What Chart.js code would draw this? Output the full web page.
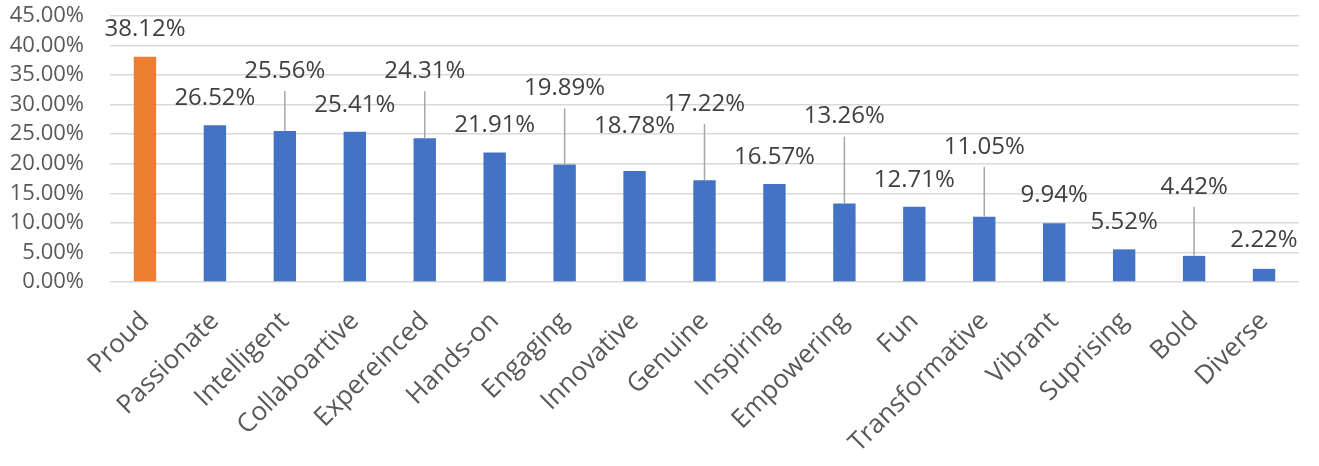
<!DOCTYPE html>
<html>
<head>
<meta charset="utf-8">
<script src="https://cdn.jsdelivr.net/npm/chart.js@4"></script>
<style>
  html, body { margin: 0; padding: 0; background: #fff; }
  #wrap { width: 1319px; height: 466px; position: relative; }
</style>
</head>
<body>
<div id="wrap"><canvas id="myChart"></canvas></div>
<script>
// data
const categories = ['Proud', 'Passionate', 'Intelligent', 'Collaboartive', 'Expereinced', 'Hands-on',
  'Engaging', 'Innovative', 'Genuine', 'Inspiring', 'Empowering', 'Fun', 'Transformative',
  'Vibrant', 'Suprising', 'Bold', 'Diverse'];
const shares = [38.12, 26.52, 25.56, 25.41, 24.31, 21.91, 19.89, 18.78, 17.22, 16.57, 13.26,
  12.71, 11.05, 9.94, 5.52, 4.42, 2.22];
const yTicks = [0, 5, 10, 15, 20, 25, 30, 35, 40, 45];

const FONT = '"Open Sans", sans-serif';
const ORANGE = '#ED7D31';
const BLUE = '#4472C4';

// how far (px) each value label sits above its bar, leader line when lifted
const labelLift = [28, 27, 60, 27, 67, 27, 76, 45, 76, 27, 87, 27, 70, 28, 27, 69, 29];
const LEADER_MIN = 50;

const barColors = categories.map((c, i) => (i === 0 ? ORANGE : BLUE));

const valueLabels = {
  id: 'valueLabels',
  afterDatasetsDraw(chart) {
    const ctx = chart.ctx;
    const meta = chart.getDatasetMeta(0);
    ctx.save();
    ctx.font = '24px ' + FONT;
    ctx.fillStyle = '#404040';
    ctx.textAlign = 'center';
    ctx.textBaseline = 'middle';
    meta.data.forEach((bar, i) => {
      const lift = labelLift[i];
      const y = bar.y - lift;
      if (lift >= LEADER_MIN) {
        ctx.strokeStyle = '#a6a6a6';
        ctx.lineWidth = 1.5;
        ctx.beginPath();
        ctx.moveTo(bar.x, y + 20);
        ctx.lineTo(bar.x, bar.y);
        ctx.stroke();
      }
      ctx.fillText(shares[i].toFixed(2) + '%', bar.x, y);
    });
    ctx.restore();
  }
};

const ctx = document.getElementById('myChart');

const config = {
  type: 'bar',
  data: {
    labels: categories,
    datasets: [{
      data: shares,
      backgroundColor: barColors,
      barPercentage: 0.32,
      categoryPercentage: 1,
    }]
  },
  options: {
    responsive: true,
    maintainAspectRatio: false,
    animation: false,
    layout: { padding: { top: 16, right: 20, left: 0, bottom: 0 } },
    plugins: {
      legend: { display: false },
      tooltip: { enabled: false },
    },
    scales: {
      x: {
        grid: { display: false, drawTicks: false },
        border: { display: false },
        ticks: {
          color: '#595959',
          font: { family: FONT, size: 26 },
          minRotation: 45,
          maxRotation: 45,
          padding: 24,
          autoSkip: false,
        },
        afterFit(scale) {
          scale.height = 184;
          scale.paddingLeft = 0;
          scale.paddingRight = 0;
        },
      },
      y: {
        min: 0,
        max: 45,
        afterBuildTicks(scale) { scale.ticks = yTicks.map(v => ({ value: v })); },
        grid: { color: '#d9d9d9', lineWidth: 1.5, drawTicks: false },
        border: { display: false },
        ticks: {
          color: '#595959',
          font: { family: FONT, size: 22 },
          padding: 26,
          autoSkip: false,
          callback: (v) => Number(v).toFixed(2) + '%',
        },
        afterFit(scale) {
          scale.width = 110;
          scale.paddingTop = 0;
          scale.paddingBottom = 0;
        },
      }
    }
  },
  plugins: [valueLabels],
};

const myChart = new Chart(ctx, config);
</script>
</body>
</html>
